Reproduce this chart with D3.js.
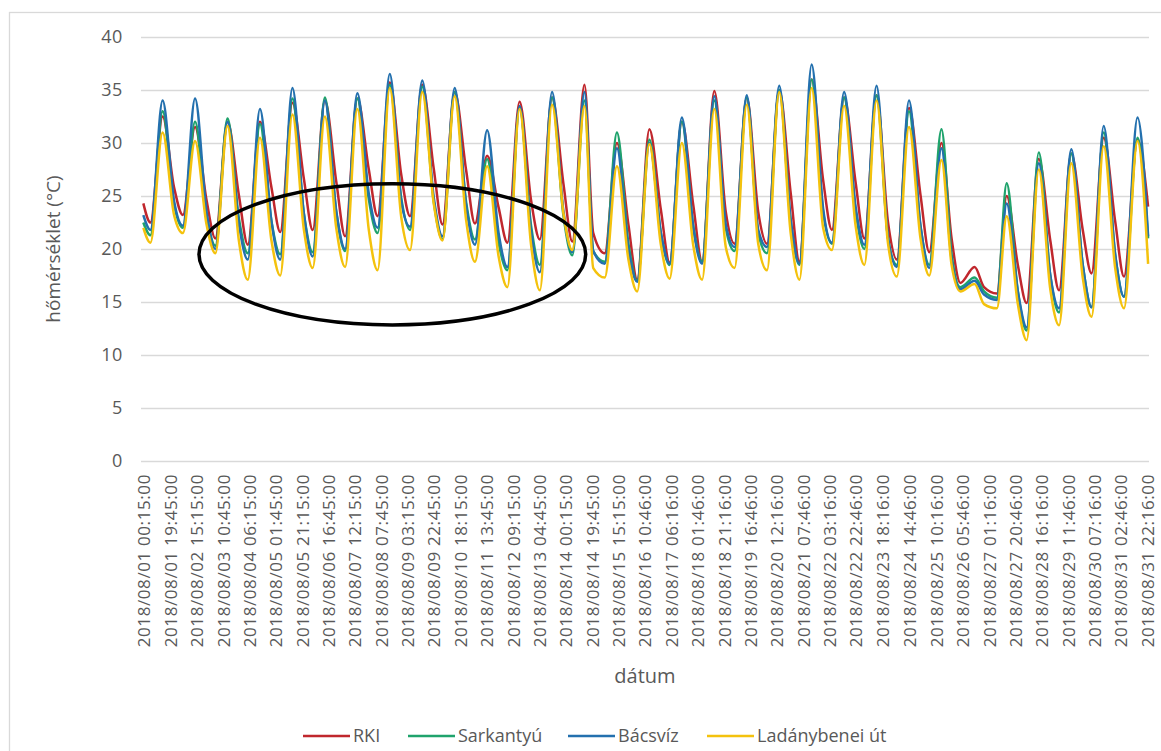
<!DOCTYPE html>
<html>
<head>
<meta charset="utf-8">
<script src="https://cdn.jsdelivr.net/npm/d3@7"></script>
<style>
  body { margin: 0; background: #fff; }
  svg text { font-family: "Open Sans", "Noto Sans", sans-serif; fill: #595959; }
</style>
</head>
<body>
<div id="chart"></div>
<script>
// Időpontok (minden nap: hajnali minimum, délutáni maximum, esti érték)
const TIMES = [
  "08/01 00:15",
  "08/01 05:30", "08/01 14:30", "08/01 23:00",
  "08/02 05:30", "08/02 14:30", "08/02 23:00",
  "08/03 05:30", "08/03 14:30", "08/03 23:00",
  "08/04 05:30", "08/04 14:30", "08/04 23:00",
  "08/05 05:30", "08/05 14:30", "08/05 23:00",
  "08/06 05:30", "08/06 14:30", "08/06 23:00",
  "08/07 05:30", "08/07 14:30", "08/07 23:00",
  "08/08 05:30", "08/08 14:30", "08/08 23:00",
  "08/09 05:30", "08/09 14:30", "08/09 23:00",
  "08/10 05:30", "08/10 14:30", "08/10 23:00",
  "08/11 05:30", "08/11 14:30", "08/11 23:00",
  "08/12 05:30", "08/12 14:30", "08/12 23:00",
  "08/13 05:30", "08/13 14:30", "08/13 23:00",
  "08/14 05:30", "08/14 14:30", "08/14 21:00",
  "08/15 05:30", "08/15 14:30", "08/15 23:00",
  "08/16 05:30", "08/16 14:30", "08/16 23:00",
  "08/17 05:30", "08/17 14:30", "08/17 23:00",
  "08/18 05:30", "08/18 14:30", "08/18 23:00",
  "08/19 05:30", "08/19 14:30", "08/19 23:00",
  "08/20 05:30", "08/20 14:30", "08/20 23:00",
  "08/21 05:30", "08/21 14:30", "08/21 23:00",
  "08/22 05:30", "08/22 14:30", "08/22 23:00",
  "08/23 05:30", "08/23 14:30", "08/23 23:00",
  "08/24 05:30", "08/24 14:30", "08/24 23:00",
  "08/25 05:30", "08/25 14:30", "08/25 22:00",
  "08/26 04:30", "08/26 15:00", "08/26 22:00",
  "08/27 07:30", "08/27 14:45", "08/27 23:00",
  "08/28 05:30", "08/28 14:30", "08/28 23:00",
  "08/29 05:30", "08/29 14:30", "08/29 23:00",
  "08/30 05:30", "08/30 14:30", "08/30 23:00",
  "08/31 05:30", "08/31 15:30", "08/31 23:20"
];

// Hőmérséklet értékek (°C), állomásonként
const RKI = [
  24.3,
  22.5, 32.5, 25.8,  23.2, 31.5, 24.6,  21.0, 32.0, 25.0,  20.4, 32.0, 25.8,
  21.6, 33.8, 26.6,  21.8, 34.0, 26.3,  21.2, 34.2, 27.5,  23.1, 35.7, 27.0,
  23.1, 35.5, 27.6,  22.3, 34.8, 27.4,  22.4, 28.8, 23.9,  20.6, 33.9, 24.6,
  20.9, 34.3, 26.1,  20.7, 35.5, 21.5,  19.6, 30.0, 22.3,  17.1, 31.3, 23.7,
  18.7, 32.0, 24.1,  18.8, 34.9, 23.5,  20.5, 34.3, 23.5,  20.5, 35.0, 25.3,
  18.8, 36.0, 26.5,  21.8, 34.3, 26.3,  21.0, 34.5, 22.5,  19.0, 33.3, 25.1,
  19.7, 30.0, 21.0,  16.8, 18.3, 16.4,  15.8, 25.0, 18.5,  14.9, 28.5, 20.8,
  16.1, 29.0, 21.8,  17.7, 30.5, 22.6,  17.4, 30.3, 24.0
];
const SARKANTYU = [
  22.5,
  21.3, 33.0, 24.2,  22.0, 32.0, 23.2,  20.3, 32.3, 22.8,  19.6, 31.8, 22.6,
  19.5, 34.2, 23.3,  19.7, 34.3, 23.4,  19.8, 34.2, 24.7,  21.5, 35.5, 24.8,
  21.8, 35.3, 24.5,  20.9, 34.8, 24.4,  20.9, 28.5, 20.6,  18.0, 33.3, 22.2,
  18.5, 34.3, 23.1,  19.4, 34.0, 19.8,  18.8, 31.0, 20.5,  17.0, 30.3, 21.5,
  18.5, 32.0, 22.1,  18.8, 34.0, 22.0,  19.8, 34.3, 21.5,  19.6, 35.0, 22.6,
  18.5, 36.0, 23.5,  20.5, 34.3, 23.6,  20.0, 34.5, 21.0,  18.5, 33.0, 22.1,
  18.5, 31.3, 19.5,  16.4, 17.3, 16.0,  15.4, 26.2, 16.0,  12.3, 29.1, 17.5,
  14.0, 29.0, 18.5,  14.5, 31.0, 19.4,  15.5, 30.5, 21.0
];
const BACSVIZ = [
  23.2,
  21.8, 34.0, 24.5,  22.2, 34.2, 23.5,  20.0, 32.0, 22.3,  19.0, 33.2, 22.6,
  19.0, 35.2, 23.3,  19.3, 34.0, 23.5,  20.0, 34.7, 25.2,  22.0, 36.5, 24.5,
  22.1, 35.9, 24.9,  21.2, 35.2, 24.1,  20.4, 31.2, 21.5,  18.3, 33.5, 21.7,
  17.8, 34.8, 23.5,  19.7, 34.8, 19.8,  18.6, 29.5, 20.0,  16.9, 30.0, 21.5,
  18.6, 32.4, 22.0,  18.6, 34.4, 22.3,  20.2, 34.5, 21.8,  20.2, 35.4, 22.8,
  18.6, 37.4, 23.8,  20.6, 34.8, 24.0,  20.4, 35.4, 21.0,  18.3, 34.0, 22.2,
  18.2, 29.5, 19.0,  16.2, 17.0, 15.7,  15.2, 24.3, 16.0,  12.6, 28.1, 17.5,
  14.4, 29.4, 18.5,  14.5, 31.6, 19.5,  15.5, 32.4, 21.2
];
const LADANYBENEI = [
  22.0,
  20.6, 31.0, 23.2,  21.5, 30.2, 22.3,  19.6, 31.6, 20.7,  17.1, 30.5, 20.8,
  17.5, 32.7, 21.8,  18.2, 32.5, 21.9,  18.3, 33.2, 21.8,  18.0, 35.2, 23.0,
  19.9, 34.8, 24.3,  20.8, 34.4, 22.7,  18.8, 27.8, 19.3,  16.4, 33.2, 20.4,
  16.1, 33.6, 23.3,  19.9, 33.5, 18.2,  17.3, 27.8, 19.0,  16.0, 29.9, 20.4,
  17.2, 30.0, 20.3,  17.1, 33.2, 20.2,  18.2, 33.6, 20.5,  18.0, 34.8, 21.5,
  17.1, 35.2, 22.0,  19.9, 33.5, 22.2,  18.5, 34.0, 20.5,  17.4, 31.5, 21.0,
  17.5, 28.4, 18.5,  16.0, 16.7, 14.8,  14.4, 23.1, 14.8,  11.4, 27.5, 16.2,
  12.8, 28.1, 17.3,  13.6, 29.7, 18.2,  14.4, 30.2, 18.6
];

const SERIES_NAMES = ["RKI", "Sarkantyú", "Bácsvíz", "Ladánybenei út"];
const SERIES_COLORS = ["#C0272D", "#1FA36C", "#2370AE", "#F4C20D"];

// X tengely feliratai
const TICK_LABELS = [
  "2018/08/01 00:15:00", "2018/08/01 19:45:00", "2018/08/02 15:15:00", "2018/08/03 10:45:00",
  "2018/08/04 06:15:00", "2018/08/05 01:45:00", "2018/08/05 21:15:00", "2018/08/06 16:45:00",
  "2018/08/07 12:15:00", "2018/08/08 07:45:00", "2018/08/09 03:15:00", "2018/08/09 22:45:00",
  "2018/08/10 18:15:00", "2018/08/11 13:45:00", "2018/08/12 09:15:00", "2018/08/13 04:45:00",
  "2018/08/14 00:15:00", "2018/08/14 19:45:00", "2018/08/15 15:15:00", "2018/08/16 10:46:00",
  "2018/08/17 06:16:00", "2018/08/18 01:46:00", "2018/08/18 21:16:00", "2018/08/19 16:46:00",
  "2018/08/20 12:16:00", "2018/08/21 07:46:00", "2018/08/22 03:16:00", "2018/08/22 22:46:00",
  "2018/08/23 18:16:00", "2018/08/24 14:46:00", "2018/08/25 10:16:00", "2018/08/26 05:46:00",
  "2018/08/27 01:16:00", "2018/08/27 20:46:00", "2018/08/28 16:16:00", "2018/08/29 11:46:00",
  "2018/08/30 07:16:00", "2018/08/31 02:46:00", "2018/08/31 22:16:00"
];
const Y_TICKS = [0, 5, 10, 15, 20, 25, 30, 35, 40];

// A kiemelő ellipszis (adat-egységekben: középpont ideje, hőmérséklet, féltengelyek órában és °C-ban)
const ELLIPSE = { center: "2018/08/08 16:24", temp: 19.5, hours: 143.7, degrees: 6.66 };

const WIDTH = 1161;
const HEIGHT = 751;
const PLOT = { left: 141, right: 1149, top: 37, bottom: 461 };

const svg = d3.select("#chart").append("svg")
  .attr("width", WIDTH)
  .attr("height", HEIGHT);

// Keret
svg.append("rect")
  .attr("x", 9.5).attr("y", 12.5)
  .attr("width", 1200).attr("height", 800)
  .attr("fill", "none")
  .attr("stroke", "#d9d9d9")
  .attr("stroke-width", 1.3);

const parseShort = d3.timeParse("%Y/%m/%d %H:%M");
const parseLong = d3.timeParse("%Y/%m/%d %H:%M:%S");
const times = TIMES.map(t => parseShort("2018/" + t));

const x = d3.scaleTime()
  .domain([parseShort("2018/08/01 00:00"), parseShort("2018/09/01 00:00")])
  .range([143, 1149]);

const y = d3.scaleLinear()
  .domain([0, 40])
  .range([PLOT.bottom, PLOT.top]);

// Rácsvonalak
svg.append("g")
  .selectAll("line")
  .data(Y_TICKS)
  .enter().append("line")
  .attr("x1", PLOT.left)
  .attr("x2", PLOT.right)
  .attr("y1", d => Math.round(y(d)) + 0.5)
  .attr("y2", d => Math.round(y(d)) + 0.5)
  .attr("stroke", "#d9d9d9")
  .attr("stroke-width", 1.3);

// Y tengely feliratai
svg.append("g")
  .selectAll("text")
  .data(Y_TICKS)
  .enter().append("text")
  .attr("x", 123)
  .attr("y", d => y(d))
  .attr("dy", "0.36em")
  .attr("text-anchor", "end")
  .style("font-size", "18px")
  .style("letter-spacing", "0.6px")
  .text(d => d);

// X tengely feliratai (elforgatva)
svg.append("g")
  .selectAll("text")
  .data(TICK_LABELS)
  .enter().append("text")
  .attr("transform", d => `translate(${x(parseLong(d)) + 1},474) rotate(-90)`)
  .attr("dy", "0.36em")
  .attr("text-anchor", "end")
  .style("font-size", "17px")
  .style("letter-spacing", "0.6px")
  .text(d => d);

// Tengelycímek
svg.append("text")
  .attr("transform", "translate(53,249) rotate(-90)")
  .attr("text-anchor", "middle")
  .attr("dy", "0.35em")
  .style("font-size", "19px")
  .text("hőmérséklet (°C)");

svg.append("text")
  .attr("x", 645)
  .attr("y", 676)
  .attr("text-anchor", "middle")
  .attr("dy", "0.35em")
  .style("font-size", "20px")
  .text("dátum");

// Vonalak
const lineGen = d3.line()
  .x((d, i) => x(times[i]))
  .y(d => y(d))
  .curve(d3.curveMonotoneX);

const seriesValues = [RKI, SARKANTYU, BACSVIZ, LADANYBENEI];

svg.append("g")
  .selectAll("path")
  .data(seriesValues)
  .enter().append("path")
  .attr("d", d => lineGen(d))
  .attr("fill", "none")
  .attr("stroke", (d, i) => SERIES_COLORS[i])
  .attr("stroke-width", 2.5)
  .attr("stroke-linejoin", "round");

// Ellipszis
const ellipseCenter = parseShort(ELLIPSE.center);
const ecx = x(ellipseCenter);
const ecy = y(ELLIPSE.temp);
const erx = x(d3.timeHour.offset(ellipseCenter, ELLIPSE.hours)) - ecx;
const ery = y(0) - y(ELLIPSE.degrees);
svg.append("ellipse")
  .attr("cx", ecx)
  .attr("cy", ecy)
  .attr("rx", erx)
  .attr("ry", ery)
  .attr("fill", "none")
  .attr("stroke", "#000")
  .attr("stroke-width", 3.5);

// Jelmagyarázat
const legendX = [303, 408, 568, 707];
const legend = svg.append("g")
  .selectAll("g")
  .data(SERIES_NAMES)
  .enter().append("g")
  .attr("transform", (d, i) => `translate(${legendX[i]},736)`);

legend.append("line")
  .attr("x1", 0).attr("x2", 47)
  .attr("y1", 0).attr("y2", 0)
  .attr("stroke", (d, i) => SERIES_COLORS[i])
  .attr("stroke-width", 2.3);

legend.append("text")
  .attr("x", 50)
  .attr("y", 0)
  .attr("dy", "0.35em")
  .style("font-size", "18px")
  .text(d => d);
</script>
</body>
</html>
